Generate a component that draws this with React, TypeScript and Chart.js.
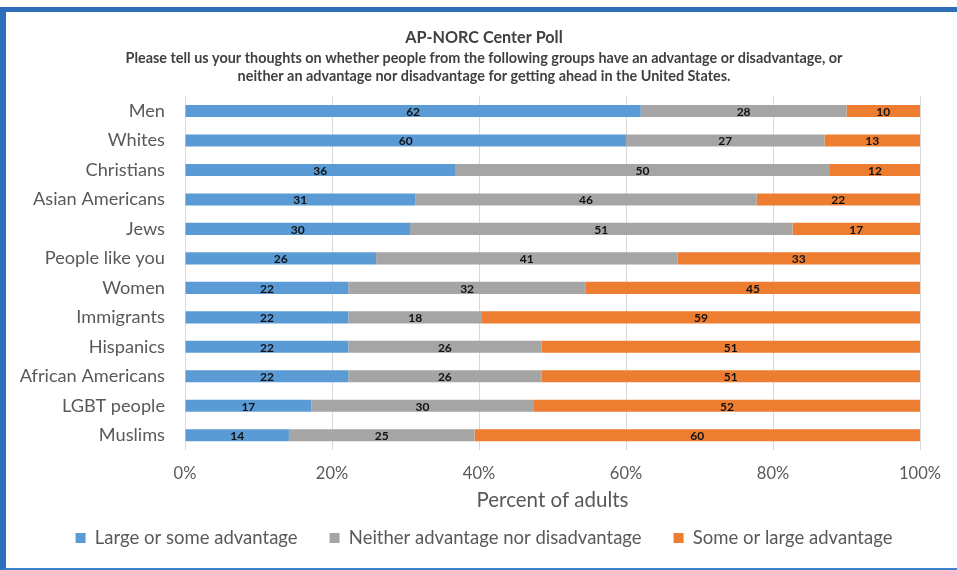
import React, { useEffect, useRef } from "react";
import { Chart, registerables } from "chart.js";

Chart.register(...registerables);

const categories = [
  "Men",
  "Whites",
  "Christians",
  "Asian Americans",
  "Jews",
  "People like you",
  "Women",
  "Immigrants",
  "Hispanics",
  "African Americans",
  "LGBT people",
  "Muslims",
];
const advantage = [62, 60, 36, 31, 30, 26, 22, 22, 22, 22, 17, 14];
const neither = [28, 27, 50, 46, 51, 41, 32, 18, 26, 26, 30, 25];
const disadvantage = [10, 13, 12, 22, 17, 33, 45, 59, 51, 51, 52, 60];
const seriesLabels = [
  "Large or some advantage",
  "Neither advantage nor disadvantage",
  "Some or large advantage",
];
const seriesColors = ["#5B9BD5", "#A5A5A5", "#ED7D31"];
const titleText = "AP-NORC Center Poll";
const subtitleLines = [
  "Please tell us your thoughts on whether people from the following groups have an advantage or disadvantage, or",
  "neither an advantage nor disadvantage for getting ahead in the United States.",
];
const xAxisTitle = "Percent of adults";

const FONT = "Lato, 'Open Sans', sans-serif";
const TEXT = "#595959";

const valueLabels = {
  id: "valueLabels",
  afterDatasetsDraw(chart: any) {
    const ctx = chart.ctx;
    ctx.save();
    ctx.font = `bold 12px ${FONT}`;
    ctx.fillStyle = "#111111";
    ctx.textAlign = "center";
    ctx.textBaseline = "middle";
    chart.data.datasets.forEach((ds: any, di: number) => {
      const meta = chart.getDatasetMeta(di);
      meta.data.forEach((el: any, i: number) => {
        const p = el.getProps(["x", "base", "y"], true);
        ctx.fillText(String(ds.rawValues[i]), (p.x + p.base) / 2, p.y + 1);
      });
    });
    ctx.restore();
  },
};

export default function App() {
  const ref = useRef<HTMLCanvasElement | null>(null);

  useEffect(() => {
    if (!ref.current) return;
    const raw = [advantage, neither, disadvantage];
    const totals = categories.map((_, i) => advantage[i] + neither[i] + disadvantage[i]);
    const datasets = raw.map((vals, k) => ({
      label: seriesLabels[k],
      data: vals.map((v, i) => (v / totals[i]) * 100),
      rawValues: vals,
      backgroundColor: seriesColors[k],
      borderWidth: 0,
      barPercentage: 0.41,
      categoryPercentage: 1,
    }));

    const chart = new Chart(ref.current, {
      type: "bar",
      data: { labels: categories, datasets: datasets as any },
      plugins: [valueLabels as any],
      options: {
        indexAxis: "y",
        responsive: false,
        animation: false,
        layout: { padding: { left: 0, right: 0, top: 0, bottom: 12.75 } },
        plugins: {
          title: {
            display: true,
            text: titleText,
            color: "#404040",
            font: { family: FONT, size: 16.2, weight: "bold" },
            padding: { top: 28, bottom: 2 },
          },
          subtitle: {
            display: true,
            text: subtitleLines,
            color: "#404040",
            font: { family: FONT, size: 14.4, weight: "bold", lineHeight: "18px" } as any,
            padding: { top: 0, bottom: 10.8 },
          },
          legend: {
            position: "bottom",
            labels: {
              boxWidth: 10,
              boxHeight: 10,
              padding: 32,
              color: TEXT,
              font: { family: FONT, size: 18.5 },
            },
          },
          tooltip: { enabled: false },
        },
        scales: {
          x: {
            stacked: true,
            min: 0,
            max: 100,
            ticks: {
              stepSize: 20,
              padding: 14,
              color: TEXT,
              font: { family: FONT, size: 16.5 },
              callback: (v: any) => v + "%",
            },
            grid: { color: "#D9D9D9", drawTicks: false },
            border: { display: false },
            title: {
              display: true,
              text: xAxisTitle,
              color: TEXT,
              font: { family: FONT, size: 20.5 },
              padding: { top: 0, bottom: -16.25 },
            },
            afterFit: (scale: any) => {
              scale.height = 46.75;
            },
          },
          y: {
            stacked: true,
            ticks: {
              padding: 20,
              color: TEXT,
              font: { family: FONT, size: 18.2 },
            },
            grid: { display: false, drawTicks: false },
            border: { display: false },
            afterFit: (scale: any) => {
              scale.width = 185;
            },
          },
          yRight: {
            type: "category",
            axis: "y",
            position: "right",
            display: true,
            ticks: { display: false },
            grid: { display: false, drawTicks: false },
            border: { display: false },
            afterFit: (scale: any) => {
              scale.width = 48;
            },
          } as any,
        },
      },
    });
    return () => chart.destroy();
  }, []);

  return (
    <>
      <div
        style={{
          position: "absolute",
          left: 0,
          top: 7,
          width: 957,
          height: 563,
          boxSizing: "border-box",
          borderTop: "5px solid #2E6FBC",
          borderLeft: "6px solid #2E6FBC",
          borderBottom: "2px solid #3B82CF",
        }}
      />
      <div
        style={{
          position: "absolute",
          left: 0,
          top: 0,
          width: 957,
          height: 570,
          overflow: "hidden",
        }}
      >
        <canvas
          ref={ref}
          width={968}
          height={570}
          style={{ display: "block", width: 968, height: 570 }}
        />
      </div>
    </>
  );
}
